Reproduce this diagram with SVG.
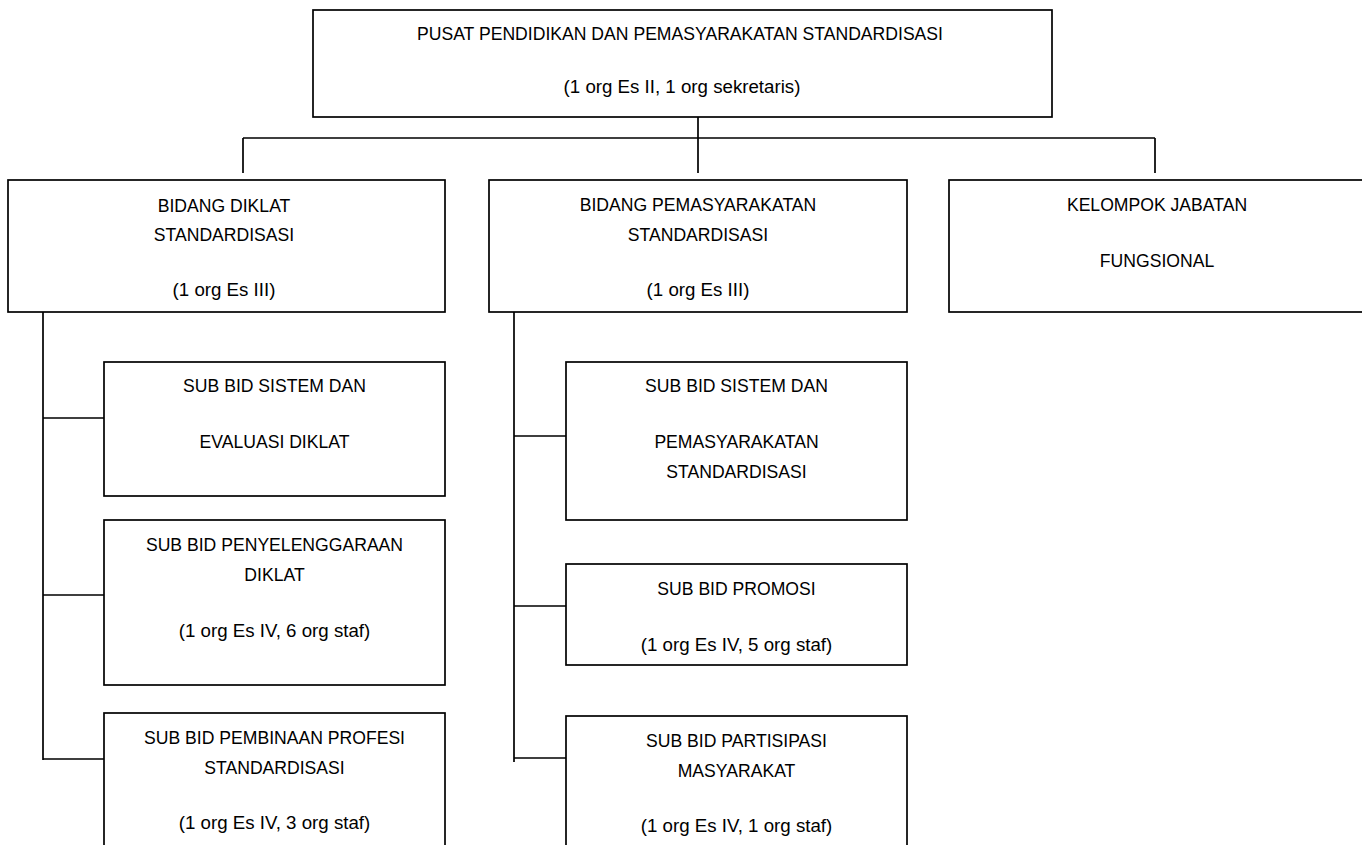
<svg xmlns="http://www.w3.org/2000/svg" width="1362" height="845" viewBox="0 0 1362 845">
<style>
.box{fill:#fff;stroke:#000;stroke-width:1.7}
.ln{fill:none;stroke:#000;stroke-width:1.7}
text{font-family:"Liberation Sans",Arial,sans-serif;font-size:17.6px;fill:#000;text-anchor:middle}
text.m{font-size:18.7px}
</style>
<rect x="0" y="0" width="1362" height="845" fill="#fff"/>
<g id="connectors">
<path class="ln" d="M698,117 V173 M243,138 H1155 M243,138 V173 M1155,138 V173"/>
<path class="ln" d="M43,312 V760 M43,418 H104 M43,595 H104 M43,759 H104"/>
<path class="ln" d="M514,312 V762 M514,436 H566 M514,606 H566 M514,758 H566"/>
</g>
<g id="pusat">
<rect class="box" x="313" y="10" width="739" height="107"/>
<text x="680" y="40">PUSAT PENDIDIKAN DAN PEMASYARAKATAN STANDARDISASI</text>
<text class="m" x="682" y="93">(1 org Es II, 1 org sekretaris)</text>
</g>
<g id="bidang-diklat">
<rect class="box" x="8" y="180" width="437" height="132"/>
<text x="224" y="212">BIDANG DIKLAT</text>
<text x="224" y="241">STANDARDISASI</text>
<text class="m" x="224" y="296">(1 org Es III)</text>
</g>
<g id="bidang-pemasyarakatan">
<rect class="box" x="489" y="180" width="418" height="132"/>
<text x="698" y="211">BIDANG PEMASYARAKATAN</text>
<text x="698" y="241">STANDARDISASI</text>
<text class="m" x="698" y="296">(1 org Es III)</text>
</g>
<g id="kelompok">
<rect class="box" x="949" y="180" width="420" height="132"/>
<text x="1157" y="211">KELOMPOK JABATAN</text>
<text x="1157" y="267">FUNGSIONAL</text>
</g>
<g id="sub-sistem-evaluasi">
<rect class="box" x="104" y="362" width="341" height="134"/>
<text x="274.5" y="392">SUB BID SISTEM DAN</text>
<text x="274.5" y="448">EVALUASI DIKLAT</text>
</g>
<g id="sub-penyelenggaraan">
<rect class="box" x="104" y="520" width="341" height="165"/>
<text x="274.5" y="551">SUB BID PENYELENGGARAAN</text>
<text x="274.5" y="581">DIKLAT</text>
<text class="m" x="274.5" y="637">(1 org Es IV, 6 org staf)</text>
</g>
<g id="sub-pembinaan">
<rect class="box" x="104" y="713" width="341" height="140"/>
<text x="274.5" y="744">SUB BID PEMBINAAN PROFESI</text>
<text x="274.5" y="774">STANDARDISASI</text>
<text class="m" x="274.5" y="829">(1 org Es IV, 3 org staf)</text>
</g>
<g id="sub-sistem-pemasyarakatan">
<rect class="box" x="566" y="362" width="341" height="158"/>
<text x="736.5" y="392">SUB BID SISTEM DAN</text>
<text x="736.5" y="448">PEMASYARAKATAN</text>
<text x="736.5" y="478">STANDARDISASI</text>
</g>
<g id="sub-promosi">
<rect class="box" x="566" y="564" width="341" height="101"/>
<text x="736.5" y="595">SUB BID PROMOSI</text>
<text class="m" x="736.5" y="651">(1 org Es IV, 5 org staf)</text>
</g>
<g id="sub-partisipasi">
<rect class="box" x="566" y="716" width="341" height="137"/>
<text x="736.5" y="747">SUB BID PARTISIPASI</text>
<text x="736.5" y="777">MASYARAKAT</text>
<text class="m" x="736.5" y="832">(1 org Es IV, 1 org staf)</text>
</g>
</svg>
